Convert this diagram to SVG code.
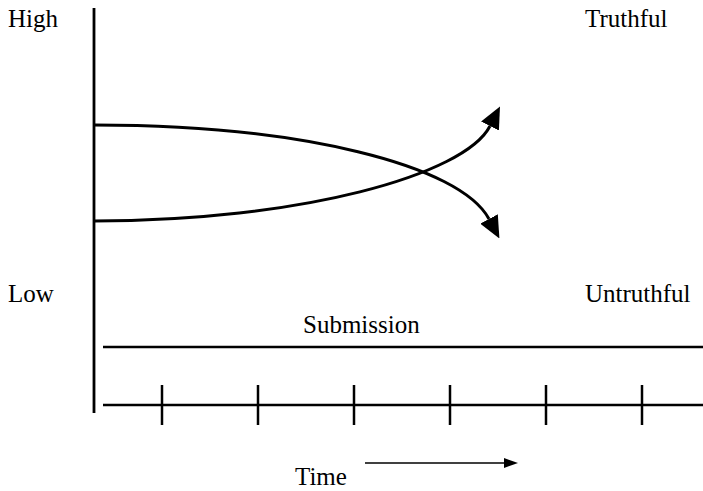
<svg xmlns="http://www.w3.org/2000/svg" width="703" height="491" viewBox="0 0 703 491">
<style>
  .lbl { font-family: "Liberation Serif", "Times New Roman", serif; font-size: 25px; fill: #000; }
  .ax { stroke: #000; stroke-width: 2.8; fill: none; }
  .ln { stroke: #000; stroke-width: 2.5; fill: none; }
  .crv { stroke: #000; stroke-width: 3; fill: none; marker-end: url(#bigArrow); }
</style>
<defs>
  <marker id="bigArrow" markerUnits="userSpaceOnUse" viewBox="0 0 22 20" refX="0" refY="10" markerWidth="22" markerHeight="20" orient="auto">
    <path d="M0,0 L22,10 L0,20 z" fill="#000"/>
  </marker>
  <marker id="smallArrow" markerUnits="userSpaceOnUse" viewBox="0 0 14 10" refX="0" refY="5" markerWidth="14" markerHeight="10" orient="auto">
    <path d="M0,0 L14,5 L0,10 z" fill="#000"/>
  </marker>
</defs>
<rect width="703" height="491" fill="#fff"/>
<g id="labels">
  <text class="lbl" x="8" y="27">High</text>
  <text class="lbl" x="8" y="302">Low</text>
  <text class="lbl" x="585" y="27">Truthful</text>
  <text class="lbl" x="585" y="302">Untruthful</text>
  <text class="lbl" x="303" y="333">Submission</text>
  <text class="lbl" x="295" y="485">Time</text>
</g>
<g id="axes">
  <line class="ax" x1="94" y1="8" x2="94" y2="413"/>
  <line class="ln" x1="103" y1="347" x2="703" y2="347"/>
  <line class="ln" x1="103" y1="405" x2="703" y2="405"/>
  <g id="ticks">
    <line class="ln" x1="162" y1="385" x2="162" y2="425"/>
    <line class="ln" x1="258" y1="385" x2="258" y2="425"/>
    <line class="ln" x1="354" y1="385" x2="354" y2="425"/>
    <line class="ln" x1="450" y1="385" x2="450" y2="425"/>
    <line class="ln" x1="546" y1="385" x2="546" y2="425"/>
    <line class="ln" x1="642" y1="385" x2="642" y2="425"/>
  </g>
</g>
<g id="connectors">
  <path id="decreasing" class="crv" d="M94,125 C300,125 460,165 489,219"/>
  <path id="increasing" class="crv" d="M94,221 C300,221 465,175 490,126"/>
  <line id="time-arrow" x1="365" y1="463" x2="504" y2="463" stroke="#000" stroke-width="1.6" marker-end="url(#smallArrow)"/>
</g>
</svg>
